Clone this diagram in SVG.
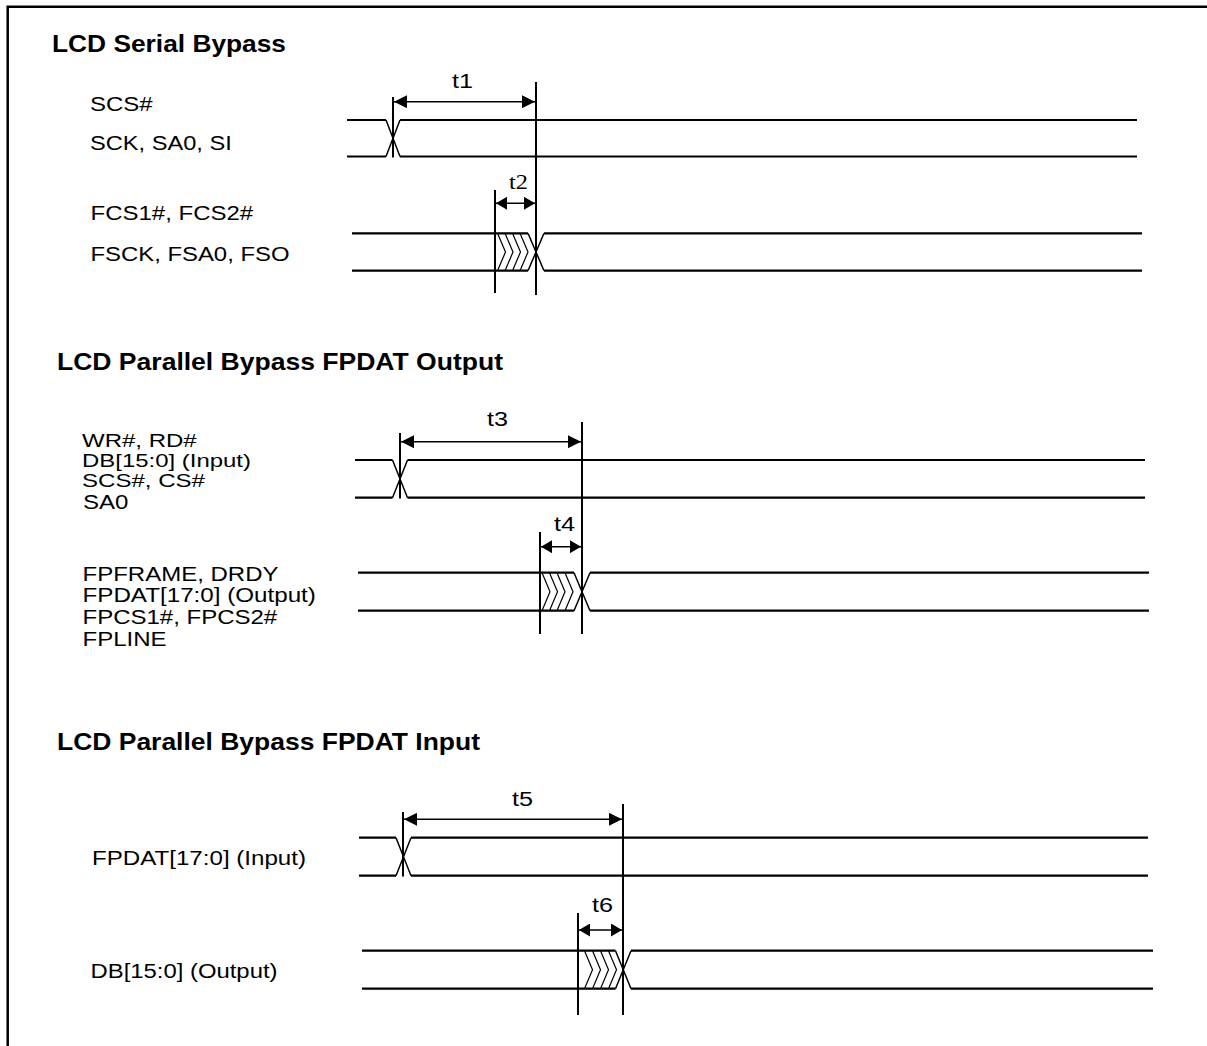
<svg xmlns="http://www.w3.org/2000/svg" width="1207" height="1046" viewBox="0 0 1207 1046">
<defs>
<marker id="ah" markerUnits="userSpaceOnUse" markerWidth="14" markerHeight="13" refX="13" refY="6.5" orient="auto-start-reverse" viewBox="0 0 14 13">
<path d="M0,0 L13,6.5 L0,13 z" fill="#000"/>
</marker>
<marker id="ahs" markerUnits="userSpaceOnUse" markerWidth="12" markerHeight="13" refX="11" refY="6.5" orient="auto-start-reverse" viewBox="0 0 12 13">
<path d="M0,0 L11,6.5 L0,13 z" fill="#000"/>
</marker>
</defs>
<style>
.lbl{font-family:"Liberation Sans",Arial,sans-serif;font-size:20.5px;fill:#000}
.stk{font-size:19px}
.ttl{font-family:"Liberation Sans",Arial,sans-serif;font-size:24px;font-weight:bold;fill:#000}
.tser{font-family:"Liberation Serif","Times New Roman",serif;font-size:22px;fill:#000}
.wave{fill:none;stroke:#000;stroke-width:2.2}
.diag{fill:none;stroke:#000;stroke-width:1.5}
.hatch{fill:none;stroke:#000;stroke-width:1.2}
.mark{stroke:#000;stroke-width:2}
.dim{stroke:#000;stroke-width:1.5;marker-start:url(#ah);marker-end:url(#ah)}
.dims{stroke:#000;stroke-width:1.5;marker-start:url(#ahs);marker-end:url(#ahs)}
.frame{fill:none;stroke:#000;stroke-width:2.5}
</style>
<rect width="1207" height="1046" fill="#fff"/>
<path class="frame" d="M7.7,1046 V6.7 H1207"/>

<g id="section-serial">
<text class="ttl" x="52" y="52" textLength="234" lengthAdjust="spacingAndGlyphs">LCD Serial Bypass</text>
<g id="sig-scs">
<text class="lbl" x="90" y="111" textLength="62.7" lengthAdjust="spacingAndGlyphs">SCS#</text>
<text class="lbl" x="90" y="150" textLength="141.7" lengthAdjust="spacingAndGlyphs">SCK, SA0, SI</text>
<path class="wave" d="M347,120 H386 M400,120 H1137 M347,156.5 H386 M400,156.5 H1137"/>
<path class="diag" d="M386,120 L400,156.5 M386,156.5 L400,120"/>
</g>
<g id="sig-fcs">
<text class="lbl" x="90.5" y="220" textLength="162.7" lengthAdjust="spacingAndGlyphs">FCS1#, FCS2#</text>
<text class="lbl" x="90.5" y="261" textLength="199" lengthAdjust="spacingAndGlyphs">FSCK, FSA0, FSO</text>
<path class="wave" d="M352,233.3 H528 M544,233.3 H1142 M352,270.7 H528 M544,270.7 H1142"/>
<path class="diag" d="M528,233.3 L544,270.7 M528,270.7 L544,233.3"/>
<path class="hatch" d="M497.5,233.3 L505.5,252 L497.5,270.7 M505,233.3 L513,252 L505,270.7 M512.5,233.3 L520.5,252 L512.5,270.7 M520,233.3 L528,252 L520,270.7"/>
</g>
</g>

<g id="section-par-out">
<text class="ttl" x="57" y="370" textLength="446" lengthAdjust="spacingAndGlyphs">LCD Parallel Bypass FPDAT Output</text>
<g id="sig-wr">
<text class="lbl stk" x="82" y="446.5" textLength="114.7" lengthAdjust="spacingAndGlyphs">WR#, RD#</text>
<text class="lbl stk" x="82" y="466.5" textLength="169" lengthAdjust="spacingAndGlyphs">DB[15:0] (Input)</text>
<text class="lbl stk" x="82" y="486.5" textLength="123" lengthAdjust="spacingAndGlyphs">SCS#, CS#</text>
<text class="lbl" x="83" y="508.5" textLength="45.4" lengthAdjust="spacingAndGlyphs">SA0</text>
<path class="wave" d="M355,460 H392.5 M407.5,460 H1145 M355,497.7 H392.5 M407.5,497.7 H1145"/>
<path class="diag" d="M392.5,460 L407.5,497.7 M392.5,497.7 L407.5,460"/>
</g>
<g id="sig-fpframe">
<text class="lbl" x="82.5" y="581" textLength="196" lengthAdjust="spacingAndGlyphs">FPFRAME, DRDY</text>
<text class="lbl" x="82.5" y="602" textLength="233.4" lengthAdjust="spacingAndGlyphs">FPDAT[17:0] (Output)</text>
<text class="lbl" x="82.5" y="624" textLength="194.7" lengthAdjust="spacingAndGlyphs">FPCS1#, FPCS2#</text>
<text class="lbl" x="82.5" y="646" textLength="84" lengthAdjust="spacingAndGlyphs">FPLINE</text>
<path class="wave" d="M358,572.7 H574 M590,572.7 H1149 M358,610.7 H574 M590,610.7 H1149"/>
<path class="diag" d="M574,572.7 L590,610.7 M574,610.7 L590,572.7"/>
<path class="hatch" d="M542,572.7 L550,591.7 L542,610.7 M549.5,572.7 L557.5,591.7 L549.5,610.7 M557,572.7 L565,591.7 L557,610.7 M565,572.7 L573,591.7 L565,610.7"/>
</g>
</g>

<g id="section-par-in">
<text class="ttl" x="57" y="750" textLength="423" lengthAdjust="spacingAndGlyphs">LCD Parallel Bypass FPDAT Input</text>
<g id="sig-fpdat-in">
<text class="lbl" x="92" y="865" textLength="214" lengthAdjust="spacingAndGlyphs">FPDAT[17:0] (Input)</text>
<path class="wave" d="M359,837.7 H396 M411,837.7 H1148 M359,875.7 H396 M411,875.7 H1148"/>
<path class="diag" d="M396,837.7 L411,875.7 M396,875.7 L411,837.7"/>
</g>
<g id="sig-db-out">
<text class="lbl" x="90.5" y="978" textLength="187" lengthAdjust="spacingAndGlyphs">DB[15:0] (Output)</text>
<path class="wave" d="M362,950.7 H615.5 M631,950.7 H1153 M362,988.7 H615.5 M631,988.7 H1153"/>
<path class="diag" d="M615.5,950.7 L631,988.7 M615.5,988.7 L631,950.7"/>
<path class="hatch" d="M584.5,950.7 L592.5,969.7 L584.5,988.7 M592.5,950.7 L600.5,969.7 L592.5,988.7 M600.5,950.7 L608.5,969.7 L600.5,988.7 M608.5,950.7 L616.5,969.7 L608.5,988.7"/>
</g>
</g>

<g id="connectors">
<line class="mark" x1="393" y1="97" x2="393" y2="157.5"/>
<line class="mark" x1="536" y1="82" x2="536" y2="295"/>
<line class="mark" x1="495" y1="190" x2="495" y2="293"/>
<line class="dim" x1="394" y1="101.7" x2="535" y2="101.7"/>
<line class="dims" x1="496" y1="203.3" x2="535" y2="203.3"/>

<line class="mark" x1="400" y1="433" x2="400" y2="498.5"/>
<line class="mark" x1="582" y1="422" x2="582" y2="634"/>
<line class="mark" x1="540" y1="532" x2="540" y2="634"/>
<line class="dim" x1="401" y1="441.7" x2="581" y2="441.7"/>
<line class="dims" x1="541" y1="546.7" x2="581" y2="546.7"/>

<line class="mark" x1="403" y1="812" x2="403" y2="876.5"/>
<line class="mark" x1="623" y1="804" x2="623" y2="1015"/>
<line class="mark" x1="578" y1="913" x2="578" y2="1015"/>
<line class="dim" x1="404" y1="819.3" x2="622" y2="819.3"/>
<line class="dims" x1="579" y1="930" x2="622" y2="930"/>
</g>

<g id="timing-labels">
<text class="lbl" x="452" y="88" textLength="21" lengthAdjust="spacingAndGlyphs">t1</text>
<text class="tser" x="509" y="189" textLength="19" lengthAdjust="spacingAndGlyphs">t2</text>
<text class="lbl" x="487" y="426" textLength="21" lengthAdjust="spacingAndGlyphs">t3</text>
<text class="lbl" x="554" y="531" textLength="21" lengthAdjust="spacingAndGlyphs">t4</text>
<text class="lbl" x="512" y="806" textLength="21" lengthAdjust="spacingAndGlyphs">t5</text>
<text class="lbl" x="592" y="912" textLength="21" lengthAdjust="spacingAndGlyphs">t6</text>
</g>
</svg>
